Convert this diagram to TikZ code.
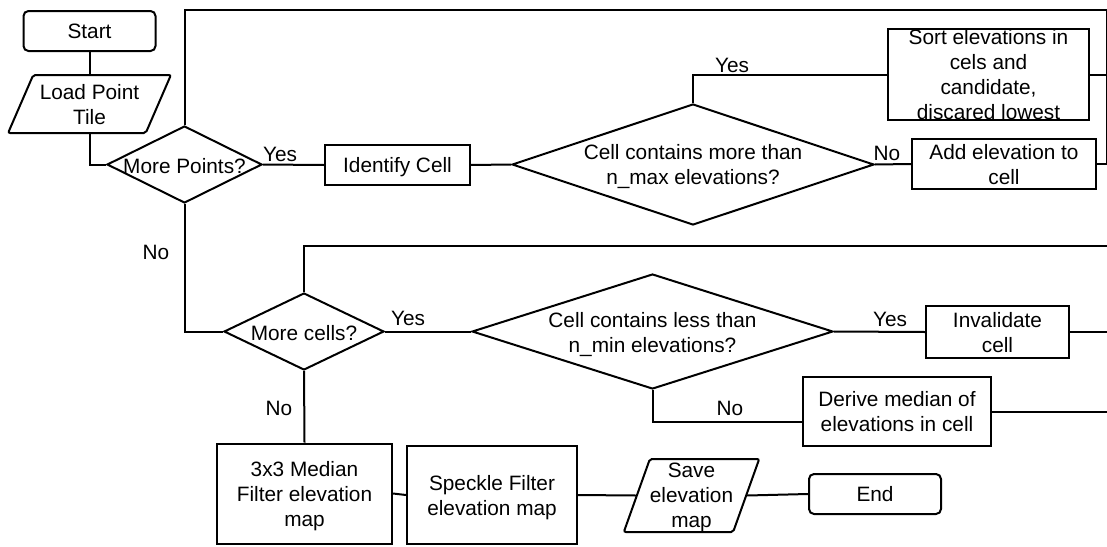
\documentclass[tikz,border=0pt]{standalone}
\usepackage{fontspec}
\setmainfont{Liberation Sans}
\usetikzlibrary{shapes.geometric}

\tikzstyle{every node}=[font=\fontsize{20.8}{25}\selectfont]

\begin{document}
\begin{tikzpicture}[x=1pt, y=-1pt, line width=2pt,
proc/.style={draw, rectangle, inner sep=0pt, align=center, text depth=-1.5pt},
term/.style={draw, rectangle, rounded corners=5pt, inner sep=0pt, text depth=-1.5pt,
             minimum width=132pt, minimum height=40pt},
decision/.style={draw, diamond, inner sep=0pt},
io/.style={draw, trapezium, trapezium stretches=true, inner sep=0pt, align=center,
           text depth=-1.5pt, rounded corners=2pt},
lbl/.style={inner sep=0pt}]
 \useasboundingbox (0,0) rectangle (1107,546);
 \clip (0,0) rectangle (1107,546);

 \node[term] (start) at (89.5,31) {Start};
 \node[io, trapezium left angle=61, trapezium right angle=119,
       minimum width=163pt, minimum height=58pt] (load) at (89.5,104) {Load Point\\Tile};
 \node[decision, minimum width=155pt, minimum height=77pt] (morepts) at (184.5,164.5) {};
 \node[lbl] (morepts-txt) at (184.5,166) {More Points?};
 \node[proc, minimum width=145pt, minimum height=40pt] (ident) at (397.5,165) {Identify Cell};
 \node[decision, minimum width=362pt, minimum height=121pt] (maxq) at (693,164.5) {};
 \node[lbl, align=center] (maxq-txt) at (693,167) {Cell contains more than\\n\_max elevations?};
 \node[proc, minimum width=201pt, minimum height=91pt] (sort) at (988.5,74.5)
      {Sort elevations in\\cels and\\candidate,\\discared lowest};
 \node[proc, minimum width=184pt, minimum height=50pt] (addel) at (1004,164) {Add elevation to\\cell};

 \node[decision, minimum width=160pt, minimum height=77pt] (morecells) at (304,331.5) {};
 \node[lbl] (morecells-txt) at (304,333) {More cells?};
 \node[decision, minimum width=361pt, minimum height=115pt] (minq) at (652.5,331.5) {};
 \node[lbl, align=center] (minq-txt) at (652.5,335) {Cell contains less than\\n\_min elevations?};
 \node[proc, minimum width=143pt, minimum height=52pt] (inval) at (997.5,332) {Invalidate\\cell};
 \node[proc, minimum width=188pt, minimum height=69pt] (derive) at (897,411.5) {Derive median of\\elevations in cell};

 \node[proc, minimum width=175pt, minimum height=100pt] (median) at (304.5,493.5) {3x3 Median\\Filter elevation\\map};
 \node[proc, minimum width=170pt, minimum height=98pt] (speckle) at (492,495) {Speckle Filter\\elevation map};
 \node[io, trapezium left angle=68, trapezium right angle=112,
       minimum width=131pt, minimum height=73pt] (save) at (691.5,495.5) {Save\\elevation\\map};
 \node[term] (end) at (875,494) {End};

 \coordinate (rtop) at (1107,10);
 \coordinate (rbot) at (1112,246);

 % points loop
 \draw (start) -- (load);
 \draw (load.south) |- (morepts.west);
 \draw (morepts.east) -- (ident.west);
 \draw (ident.east) -- (maxq.west);
 \draw (maxq.north) |- (sort.west);
 \draw (maxq.east) -- (addel.west);
 \draw (sort.east) -- (sort.east -| rtop);
 \draw (addel.east) -| (rtop) -| (morepts.north);
 \node[lbl] (yes-a) at (280,154) {Yes};
 \node[lbl] (yes-b) at (732,65) {Yes};
 \node[lbl] (no-a) at (887,153) {No};

 % cells loop
 \draw (morepts.south) |- (morecells.west);
 \draw (morecells.east) -- (minq.west);
 \draw (minq.east) -- (inval.west);
 \draw (minq.south) |- ([yshift=-10.5pt]derive.west);
 \draw (inval.east) -- (inval.east -| rbot);
 \draw (derive.east) -| (rbot) -| (morecells.north);
 \node[lbl] (no-b) at (156,252) {No};
 \node[lbl] (yes-c) at (408,318) {Yes};
 \node[lbl] (yes-d) at (890,319) {Yes};
 \node[lbl] (no-d) at (730,408) {No};

 % output
 \draw (morecells.south) -- (median.north);
 \draw (median.east) -- (speckle.west);
 \draw (speckle.east) -- (save.west);
 \draw (save.east) -- (end.west);
 \node[lbl] (no-c) at (279,408) {No};
\end{tikzpicture}
\end{document}
